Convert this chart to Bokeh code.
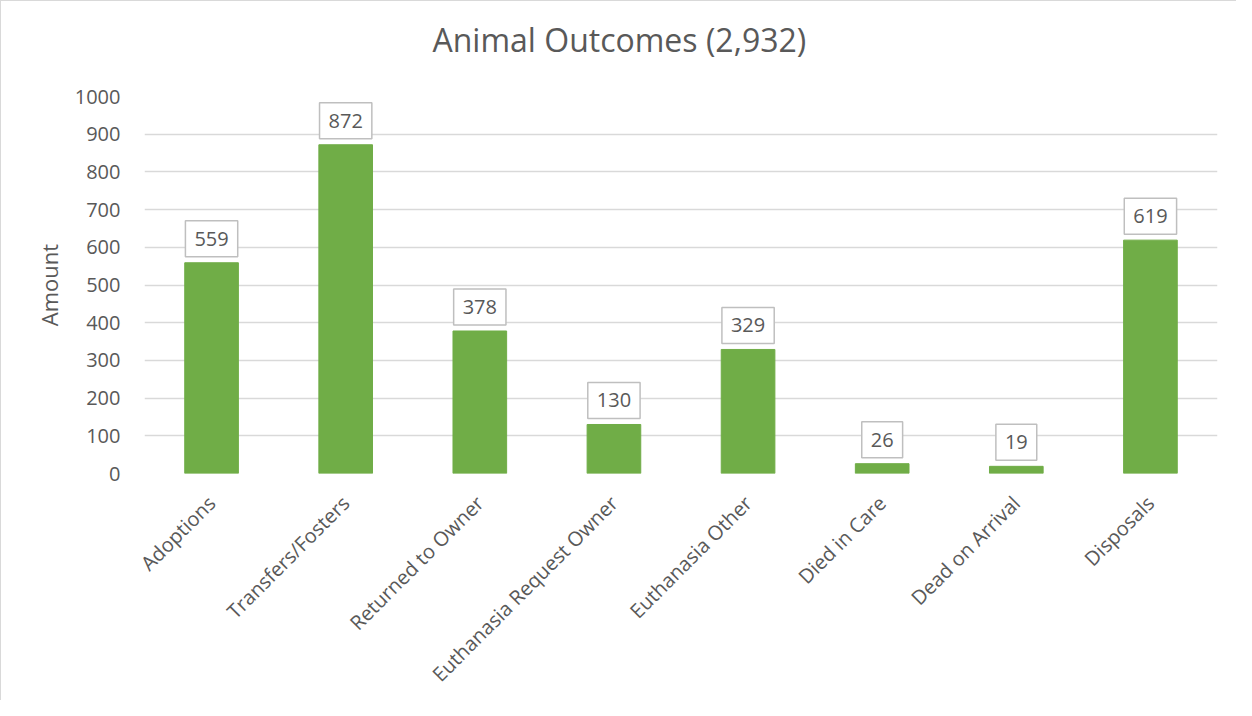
from bokeh.plotting import figure
from bokeh.models import ColumnDataSource, FactorRange, Range1d, FixedTicker, Title
from bokeh.embed import file_html
from bokeh.resources import INLINE
import math

categories = ["Adoptions", "Transfers/Fosters", "Returned to Owner",
              "Euthanasia Request Owner", "Euthanasia Other", "Died in Care",
              "Dead on Arrival", "Disposals"]
amounts = [559, 872, 378, 130, 329, 26, 19, 619]
y_ticks = [0, 100, 200, 300, 400, 500, 600, 700, 800, 900, 1000]
title_text = "Animal Outcomes (2,932)"
y_label = "Amount"

FONT = "Open Sans"
TXT = "#595959"

src = ColumnDataSource(dict(cat=categories, amt=amounts,
                            lab=[str(v) for v in amounts]))

p = figure(width=1236, height=700, output_backend="svg", toolbar_location=None,
           title=None,
           x_range=FactorRange(*categories, range_padding=0),
           y_range=Range1d(0, 1000),
           min_border_left=143, min_border_right=20, min_border_bottom=228,
           min_border_top=95)

spacer = Title(text=" ", text_font_size="2px", standoff=32)
p.add_layout(spacer, "above")

main_title = Title(text=title_text, align="left", offset=288,
                   vertical_align="bottom", standoff=0,
                   text_font=FONT, text_font_size="32px",
                   text_font_style="normal", text_color=TXT)
p.add_layout(main_title, "above")

p.vbar(x="cat", top="amt", width=0.4, source=src, color="#70AD47")

p.text(x="cat", y="amt", text="lab", source=src, y_offset=-24,
       text_align="center", text_baseline="middle",
       text_font={"value": FONT}, text_font_size="20px", text_color=TXT,
       background_fill_color="white", border_line_color="#bfbfbf",
       border_line_width=1.5,
       padding=dict(left=9, right=9, top=11, bottom=11))

p.outline_line_color = None
p.xgrid.grid_line_color = None
p.ygrid.grid_line_color = "#d9d9d9"
p.ygrid.grid_line_width = 1.5
p.ygrid.ticker = FixedTicker(ticks=y_ticks)

p.yaxis.ticker = FixedTicker(ticks=y_ticks)
p.yaxis.axis_line_color = None
p.yaxis.major_tick_line_color = None
p.yaxis.minor_tick_line_color = None
p.yaxis.major_label_text_font = FONT
p.yaxis.major_label_text_font_size = "20px"
p.yaxis.major_label_text_color = TXT
p.yaxis.major_label_standoff = 18
p.yaxis.axis_label = y_label
p.yaxis.axis_label_text_font = FONT
p.yaxis.axis_label_text_font_size = "22px"
p.yaxis.axis_label_text_font_style = "normal"
p.yaxis.axis_label_text_color = TXT
p.yaxis.axis_label_standoff = 8

p.xaxis.axis_line_color = None
p.xaxis.major_tick_line_color = None
p.xaxis.major_label_orientation = math.pi / 4
p.xaxis.major_label_text_font = FONT
p.xaxis.major_label_text_font_size = "20px"
p.xaxis.major_label_text_color = TXT
p.xaxis.major_label_standoff = 20

p.styles = {"border-left": "1px solid #d9d9d9", "border-top": "1px solid #d9d9d9"}

open("out.html", "w").write(file_html(p, INLINE))
